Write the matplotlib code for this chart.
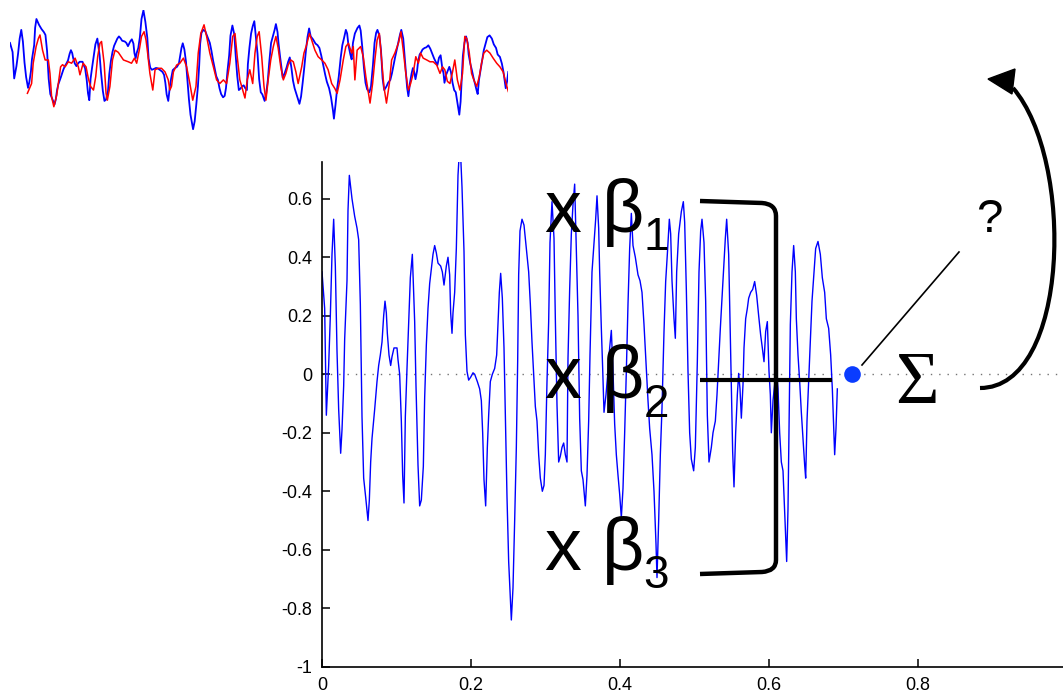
import numpy as np
import matplotlib.pyplot as plt
from matplotlib.path import Path
from matplotlib.patches import PathPatch, Polygon
from matplotlib.lines import Line2D
from matplotlib.transforms import Affine2D
from matplotlib.ticker import FuncFormatter

plt.rcParams['font.family'] = ['Liberation Sans', 'DejaVu Sans']
plt.rcParams['axes.unicode_minus'] = False

# signal samples: positions in units of 1/fs along the time axis
fs = 2235.0
blue_pos = [0, 8, 13, 20, 25, 30, 35, 40, 45, 50, 56, 60, 65, 68, 75, 78, 82, 90, 98, 105,
            110, 115, 120, 125, 131, 138, 142, 146, 150, 158, 165, 170, 175, 180, 185, 189,
            193, 196, 201, 206, 210, 216, 225, 228, 233, 238, 242, 246, 250, 255, 260, 265,
            271, 278, 282, 288, 293, 298, 304, 308, 313, 318, 323, 328, 333, 338, 343, 348,
            356, 361, 366, 373, 378, 383, 386, 390, 393, 398, 403, 408, 414, 420, 426, 430,
            435, 440, 446, 453, 458, 466, 473, 478, 482, 486, 491, 496, 500, 505, 511, 518,
            524, 528, 532, 536, 541, 546, 550, 555, 560, 565, 568, 573, 578, 583, 587, 590,
            594, 600, 606, 614, 620, 625, 630, 635, 640, 645, 650, 655, 661, 666, 670, 675,
            680, 684, 690, 696, 700, 705, 710, 715, 720, 725, 730, 735, 738, 743, 748, 753,
            758, 763, 768, 773, 778, 783, 790, 795, 800, 804, 810, 816, 821, 825, 830, 833,
            838, 842, 846, 852, 858, 863, 868, 873, 878, 883, 888, 893, 898, 903, 908, 913,
            918, 923, 928, 933, 940, 948, 954, 960, 966, 973, 978, 983, 990, 996, 1002, 1005,
            1010, 1015, 1020, 1026, 1031, 1036, 1042, 1046, 1050, 1056, 1060, 1064, 1070,
            1078, 1084, 1088, 1093, 1098, 1103, 1108, 1115, 1120, 1126, 1131, 1136, 1140,
            1146, 1151, 1156, 1161, 1168, 1173, 1180, 1185, 1190, 1195, 1200, 1205, 1210,
            1214, 1220, 1224, 1228, 1232, 1236, 1241, 1246, 1250, 1254, 1258, 1263, 1266,
            1271, 1276, 1280, 1286, 1292, 1298, 1304, 1310, 1316, 1321, 1326, 1331, 1336,
            1341, 1345, 1348, 1353, 1363, 1368, 1373, 1378, 1383, 1388, 1392, 1394, 1398,
            1401, 1405, 1410, 1415, 1420, 1423, 1428, 1433, 1438, 1443, 1448, 1451, 1455,
            1460, 1465, 1470, 1476, 1481, 1488, 1495, 1501, 1508, 1513, 1520, 1526, 1531,
            1535, 1538, 1542, 1546]
blue_val = [0.35, 0.225, -0.14, 0.03, 0.2, 0.41, 0.53, 0.37, 0.08, -0.12, -0.27, -0.19, -0.04,
            0.12, 0.32, 0.56, 0.68, 0.60, 0.54, 0.50, 0.46, 0.24, -0.145, -0.355, -0.42, -0.50,
            -0.43, -0.30, -0.22, -0.12, -0.025, 0.03, 0.066, 0.11, 0.20, 0.25, 0.21, 0.14,
            0.066, 0.03, 0.06, 0.09, 0.09, 0.05, 0.0, -0.16, -0.345, -0.44, -0.145, 0.02, 0.17,
            0.33, 0.41, 0.18, -0.04, -0.31, -0.45, -0.43, -0.315, -0.08, 0.10, 0.225, 0.31,
            0.36, 0.41, 0.44, 0.415, 0.38, 0.37, 0.35, 0.305, 0.37, 0.40, 0.34, 0.21, 0.14,
            0.21, 0.28, 0.43, 0.68, 0.80, 0.64, 0.42, 0.135, 0.01, -0.02, -0.01, 0.005, 0.0,
            -0.025, -0.05, -0.09, -0.20, -0.36, -0.45, -0.25, -0.14, -0.025, 0.0, 0.02, 0.066,
            0.17, 0.28, 0.345, 0.26, 0.09, -0.13, -0.42, -0.64, -0.77, -0.84, -0.73, -0.50,
            -0.25, 0.043, 0.34, 0.49, 0.53, 0.51, 0.42, 0.35, 0.24, 0.11, 0.0, -0.11, -0.16,
            -0.275, -0.355, -0.40, -0.38, -0.275, -0.025, 0.18, 0.45, 0.59, 0.465, 0.19,
            -0.105, -0.30, -0.28, -0.25, -0.235, -0.275, -0.30, 0.055, 0.29, 0.48, 0.58, 0.65,
            0.43, 0.20, -0.15, -0.33, -0.36, -0.45, -0.345, -0.16, 0.066, 0.35, 0.45, 0.53,
            0.61, 0.50, 0.35, 0.157, 0.02, -0.13, -0.07, 0.01, 0.09, 0.15, 0.01, -0.17,
            -0.275, -0.345, -0.41, -0.49, -0.39, -0.20, 0.01, 0.24, 0.43, 0.55, 0.44, 0.40,
            0.34, 0.32, 0.28, 0.17, 0.02, -0.09, -0.185, -0.275, -0.40, -0.58, -0.695, -0.50,
            -0.275, -0.115, 0.146, 0.317, 0.41, 0.53, 0.48, 0.32, 0.19, 0.123, 0.35, 0.48,
            0.556, 0.59, 0.52, 0.29, 0.01, -0.20, -0.29, -0.33, -0.25, 0.043, 0.35, 0.49,
            0.53, 0.45, 0.25, -0.14, -0.30, -0.25, -0.20, -0.16, -0.07, 0.043, 0.157, 0.26,
            0.36, 0.465, 0.53, 0.41, 0.19, -0.025, -0.265, -0.385, -0.20, -0.07, 0.003, -0.05,
            -0.15, -0.036, 0.09, 0.19, 0.225, 0.26, 0.28, 0.29, 0.317, 0.27, 0.20, 0.134,
            0.09, 0.043, 0.146, 0.18, 0.01, -0.07, -0.20, -0.09, 0.02, -0.05, -0.20, -0.30,
            -0.33, -0.47, -0.58, -0.64, -0.46, -0.20, 0.17, 0.35, 0.44, 0.35, 0.19, 0.066,
            -0.025, -0.13, -0.22, -0.31, -0.355, -0.16, -0.025, 0.11, 0.25, 0.35, 0.43, 0.454,
            0.41, 0.33, 0.28, 0.19, 0.157, 0.066, -0.05, -0.185, -0.275, -0.185, -0.05]

# fitted series (red), starts a few samples in
red_pos = [54, 67, 72, 81, 88, 93, 101, 109, 119, 124, 129, 136, 145, 150, 157, 163, 171, 181,
           191, 202, 212, 217, 227, 236, 243, 250, 259, 266, 272, 279, 284, 292, 298, 302, 310,
           318, 326, 336, 352, 367, 377, 386, 393, 401, 408, 416, 422, 427, 434, 443, 450, 460,
           470, 481, 491, 496, 501, 507, 517, 527, 538, 548, 558, 567, 577, 584, 592, 602, 610,
           620, 631, 641, 651, 662, 672, 682, 691, 698, 705, 713, 722, 729, 736, 744, 753, 760,
           767, 773, 781, 788, 794, 801, 809, 817, 825, 832, 840, 848, 856, 863, 871, 879, 887,
           894, 905, 912, 920, 929, 936, 946, 956, 967, 977, 987, 998, 1008, 1015, 1024, 1034,
           1042, 1050, 1060, 1065, 1070, 1077, 1088, 1096, 1104, 1112, 1117, 1125, 1132, 1139,
           1146, 1153, 1160, 1168, 1177, 1184, 1194, 1205, 1213, 1220, 1228, 1236, 1243, 1251,
           1259, 1267, 1274, 1282, 1293, 1303, 1313, 1324, 1334, 1342, 1349, 1357, 1365, 1373,
           1380, 1388, 1396, 1404, 1411, 1417, 1425, 1432, 1439, 1448, 1456, 1463, 1470, 1479,
           1489, 1499, 1510, 1520, 1530, 1539, 1546]
red_val = [-0.345, -0.21, 0.07, 0.30, 0.41, 0.46, 0.25, 0.115, 0.115, -0.07, -0.39, -0.53,
           -0.37, -0.21, 0.02, 0.05, 0.02, 0.09, 0.07, 0.14, 0.02, -0.09, 0.07, 0.02, -0.14,
           -0.25, -0.30, -0.115, 0.16, 0.345, 0.37, 0.07, -0.345, -0.44, -0.25, 0.115, 0.25,
           0.22, 0.115, 0.09, 0.07, 0.14, 0.07, 0.25, 0.44, 0.505, 0.39, 0.21, -0.07, -0.30,
           -0.02, 0.0, 0.0, -0.05, -0.16, -0.30, -0.25, -0.05, 0.045, 0.07, 0.14, 0.02, -0.21,
           -0.44, -0.25, 0.21, 0.48, 0.60, 0.44, 0.21, 0.02, -0.16, -0.21, -0.16, -0.21, 0.07,
           0.44, 0.48, 0.16, -0.16, -0.30, -0.41, -0.16, -0.02, -0.21, 0.21, 0.44, 0.505, 0.16,
           -0.25, -0.44, -0.16, 0.115, 0.30, 0.44, 0.28, 0.02, -0.16, -0.07, 0.045, 0.115,
           0.09, -0.05, -0.21, 0.02, 0.21, 0.32, 0.48, 0.39, 0.25, 0.16, 0.115, 0.07, -0.02,
           -0.21, -0.28, -0.345, -0.16, 0.115, 0.30, 0.345, 0.21, 0.30, -0.16, 0.25, 0.30,
           0.16, -0.115, -0.345, -0.48, -0.21, 0.115, 0.39, 0.48, 0.115, -0.25, -0.48, -0.21,
           0.115, 0.21, 0.345, 0.505, 0.25, -0.07, -0.30, -0.21, -0.07, 0.16, 0.07, 0.21,
           0.14, 0.115, 0.09, 0.09, 0.045, -0.07, 0.02, -0.02, -0.18, -0.21, -0.05, 0.115,
           -0.16, -0.30, -0.07, 0.44, 0.41, 0.21, -0.07, -0.16, -0.25, -0.115, 0.07, 0.21,
           0.25, 0.21, 0.14, 0.07, 0.02, -0.05, -0.21, -0.32]

assert len(blue_pos) == len(blue_val), (len(blue_pos), len(blue_val))
assert len(red_pos) == len(red_val), (len(red_pos), len(red_val))

# next value to be predicted
next_t = 0.711
next_val = 0.0

xticks = [0, 0.2, 0.4, 0.6, 0.8, 1]
yticks = [-1, -0.8, -0.6, -0.4, -0.2, 0, 0.2, 0.4, 0.6]

blue_t = np.array(blue_pos) / fs
red_t = np.array(red_pos) / fs

W, H = 1063, 692
fig = plt.figure(figsize=(W / 100, H / 100), dpi=100)
# helper transform: figure pixels measured from the top-left corner
px = Affine2D().scale(1 / W, -1 / H).translate(0, 1) + fig.transFigure

# main signal axes
ax = fig.add_axes([322 / W, (H - 666.8) / H, 745 / W, 505.2 / H])
ax.axhline(0, color='0.45', lw=1.0, ls=(0, (1, 5)), zorder=0)
ax.plot(blue_t, blue_val, color='blue', lw=1.0)
ax.set_xlim(0, 1)
ax.set_ylim(-1, 0.727)
ax.set_xticks(xticks)
ax.set_yticks(yticks)
fmt = FuncFormatter(lambda v, _: f'{v:g}')
ax.xaxis.set_major_formatter(fmt)
ax.yaxis.set_major_formatter(fmt)
for side in ('top', 'right'):
    ax.spines[side].set_visible(False)
for side in ('left', 'bottom'):
    ax.spines[side].set_linewidth(1.2)
ax.tick_params(direction='in', length=6, width=1.1, labelsize=13, pad=7,
               top=False, right=False, colors='black')
ax.patch.set_alpha(0)

# small overview of the signal and its fit
ax_in = fig.add_axes([10 / W, (H - 140.8) / H, 498.3 / W, 130.5 / H])
ax_in.plot(blue_t, blue_val, color='blue', lw=1.3)
ax_in.plot(red_t, red_val, color='red', lw=1.1)
ax_in.set_xlim(0, blue_t[-1])
ax_in.set_ylim(-1, 0.8)
ax_in.axis('off')

# weighted lags
big = 53
sub = 33
rows = [('1', 232, 250), ('2', 398, 417), ('3', 570, 588)]
for k, base, sbase in rows:
    fig.text(562.5, base, 'x', transform=px, fontsize=big, ha='center', va='baseline')
    fig.text(623, base, 'β', transform=px, fontsize=big, ha='center', va='baseline')
    fig.text(656, sbase, k, transform=px, fontsize=sub, ha='center', va='baseline')

bracket = Path([(700, 201), (762, 203), (776, 204), (776, 216), (776, 560),
                (776, 571), (762, 572), (700, 574)],
               [Path.MOVETO, Path.LINETO, Path.CURVE3, Path.CURVE3, Path.LINETO,
                Path.CURVE3, Path.CURVE3, Path.LINETO])
fig.add_artist(PathPatch(bracket, transform=px, fill=False, lw=3.2, color='black',
                         capstyle='butt', joinstyle='round'))
fig.add_artist(Line2D([700, 832], [380, 380], transform=px, lw=3.0, color='black',
                      solid_capstyle='butt'))

ax.plot(next_t, next_val, 'o', ms=12, color='#0a3cff', mec='none', clip_on=False, zorder=5)

fig.add_artist(Line2D([862, 959], [365, 252], transform=px, lw=1.2, color='black'))
fig.text(989, 232, '?', transform=px, fontsize=34, ha='center', va='baseline')
fig.text(916.5, 403, 'Σ', transform=px, fontsize=54, ha='center', va='baseline',
         family=['Liberation Serif', 'DejaVu Serif'])

# feedback arrow
loop = Path([(980, 388), (1070, 388), (1075, 160), (1013, 88)],
            [Path.MOVETO, Path.CURVE4, Path.CURVE4, Path.CURVE4])
fig.add_artist(PathPatch(loop, transform=px, fill=False, lw=3.0, color='black',
                         capstyle='butt'))
fig.add_artist(Polygon([(988, 79), (1015, 69), (1012, 94)], closed=True,
                       transform=px, color='black'))

fig.savefig('out.png', dpi=100)
